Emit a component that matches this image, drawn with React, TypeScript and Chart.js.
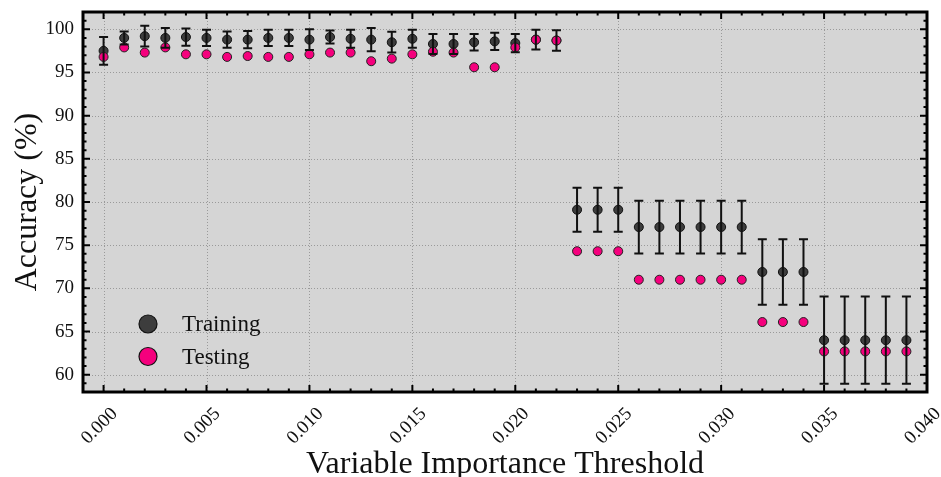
import React, { useEffect, useRef } from "react";
import { Chart, registerables } from "chart.js";

Chart.register(...registerables);

const thresholds = [
  0.000, 0.001, 0.002, 0.003, 0.004, 0.005, 0.006, 0.007, 0.008, 0.009,
  0.010, 0.011, 0.012, 0.013, 0.014, 0.015, 0.016, 0.017, 0.018, 0.019,
  0.020, 0.021, 0.022, 0.023, 0.024, 0.025, 0.026, 0.027, 0.028, 0.029,
  0.030, 0.031, 0.032, 0.033, 0.034, 0.035, 0.036, 0.037, 0.038, 0.039,
];

const trainingMean = [
  97.5, 99.0, 99.2, 99.0, 99.1, 99.0, 98.8, 98.8, 99.0, 99.0,
  98.8, 99.1, 98.9, 98.8, 98.5, 98.9, 98.3, 98.3, 98.5, 98.6,
  98.4, 98.8, 98.7, 79.1, 79.1, 79.1, 77.1, 77.1, 77.1, 77.1,
  77.1, 77.1, 71.9, 71.9, 71.9, 64.0, 64.0, 64.0, 64.0, 64.0,
];

const trainingErr = [
  1.6, 0.75, 1.2, 1.15, 1.0, 0.95, 0.95, 1.0, 0.95, 0.95,
  1.2, 0.75, 1.05, 1.35, 1.2, 1.05, 1.15, 1.15, 0.95, 1.0,
  1.05, 1.15, 1.2, 2.55, 2.55, 2.55, 3.05, 3.05, 3.05, 3.05,
  3.05, 3.05, 3.8, 3.8, 3.8, 5.05, 5.05, 5.05, 5.05, 5.05,
];

const testingAcc = [
  96.8, 97.9, 97.3, 97.9, 97.1, 97.1, 96.8, 96.9, 96.8, 96.8,
  97.1, 97.3, 97.3, 96.3, 96.6, 97.1, 97.4, 97.3, 95.6, 95.6,
  97.9, 98.8, 98.7, 74.3, 74.3, 74.3, 71.0, 71.0, 71.0, 71.0,
  71.0, 71.0, 66.1, 66.1, 66.1, 62.7, 62.7, 62.7, 62.7, 62.7,
];

const xTickValues = [0.0, 0.005, 0.01, 0.015, 0.02, 0.025, 0.03, 0.035, 0.04];
const yTickValues = [60, 65, 70, 75, 80, 85, 90, 95, 100];
const seriesNames = ["Training", "Testing"];

const FONT = "'Liberation Serif', 'Times New Roman', serif";
const TRAIN_FILL = "#3d3d3d";
const TEST_FILL = "#f5007d";

const decorPlugin = {
  id: "decor",
  beforeDatasetsDraw(chart: any) {
    const { ctx, chartArea: a, scales } = chart;
    const xs = scales.x;
    const ys = scales.y;
    ctx.save();
    ctx.fillStyle = "#d5d5d5";
    ctx.fillRect(a.left, a.top, a.right - a.left, a.bottom - a.top);
    ctx.strokeStyle = "#9a9a9a";
    ctx.lineWidth = 1;
    ctx.setLineDash([1, 2]);
    for (const v of xTickValues) {
      const px = Math.round(xs.getPixelForValue(v)) + 0.5;
      ctx.beginPath();
      ctx.moveTo(px, a.top);
      ctx.lineTo(px, a.bottom);
      ctx.stroke();
    }
    for (const v of yTickValues) {
      const py = Math.round(ys.getPixelForValue(v)) + 0.5;
      ctx.beginPath();
      ctx.moveTo(a.left, py);
      ctx.lineTo(a.right, py);
      ctx.stroke();
    }
    ctx.restore();
  },
  afterDatasetsDraw(chart: any) {
    const { ctx, chartArea: a, scales } = chart;
    const xs = scales.x;
    const ys = scales.y;
    ctx.save();
    // error bars
    ctx.strokeStyle = "#111";
    ctx.lineWidth = 2;
    const cap = 4.5;
    thresholds.forEach((t, i) => {
      const px = xs.getPixelForValue(t);
      const hi = ys.getPixelForValue(trainingMean[i] + trainingErr[i]);
      const lo = ys.getPixelForValue(trainingMean[i] - trainingErr[i]);
      ctx.beginPath();
      ctx.moveTo(px, hi);
      ctx.lineTo(px, lo);
      ctx.moveTo(px - cap, hi);
      ctx.lineTo(px + cap, hi);
      ctx.moveTo(px - cap, lo);
      ctx.lineTo(px + cap, lo);
      ctx.stroke();
    });
    // frame
    ctx.strokeStyle = "#000";
    ctx.lineWidth = 3;
    ctx.strokeRect(a.left, a.top, a.right - a.left, a.bottom - a.top);
    // inward ticks
    ctx.lineWidth = 2;
    const major = 7;
    const minor = 3.5;
    const xMin = xs.min;
    const xMax = xs.max;
    for (let k = Math.ceil(xMin * 1000 - 1e-6); k <= Math.floor(xMax * 1000 + 1e-6); k++) {
      const v = k / 1000;
      const isMajor = k % 5 === 0;
      const len = isMajor ? major : minor;
      const px = xs.getPixelForValue(v);
      ctx.beginPath();
      ctx.moveTo(px, a.bottom);
      ctx.lineTo(px, a.bottom - len);
      ctx.moveTo(px, a.top);
      ctx.lineTo(px, a.top + len);
      ctx.stroke();
    }
    for (let v = Math.ceil(ys.min); v <= Math.floor(ys.max); v++) {
      const isMajor = v % 5 === 0;
      const len = isMajor ? major : minor;
      const py = ys.getPixelForValue(v);
      ctx.beginPath();
      ctx.moveTo(a.left, py);
      ctx.lineTo(a.left + len, py);
      ctx.moveTo(a.right, py);
      ctx.lineTo(a.right - len, py);
      ctx.stroke();
    }
    ctx.restore();
  },
  afterDraw(chart: any) {
    const { ctx, chartArea: a } = chart;
    ctx.save();
    const cx = a.left + 65;
    const rows = [a.bottom - 68, a.bottom - 35.5];
    const fills = [TRAIN_FILL, TEST_FILL];
    rows.forEach((cy, i) => {
      ctx.beginPath();
      ctx.arc(cx, cy, 9, 0, Math.PI * 2);
      ctx.fillStyle = fills[i];
      ctx.fill();
      ctx.lineWidth = 1.2;
      ctx.strokeStyle = "#111";
      ctx.stroke();
      ctx.fillStyle = "#111";
      ctx.font = `23px ${FONT}`;
      ctx.textAlign = "left";
      ctx.textBaseline = "middle";
      ctx.fillText(seriesNames[i], cx + 34, cy + 1);
    });
    ctx.restore();
  },
};

export default function App() {
  const ref = useRef<HTMLCanvasElement | null>(null);
  useEffect(() => {
    if (!ref.current) return;
    const chart = new Chart(ref.current, {
      type: "scatter",
      data: {
        datasets: [
          {
            label: seriesNames[0],
            data: thresholds.map((t, i) => ({ x: t, y: trainingMean[i] })),
            backgroundColor: TRAIN_FILL,
            borderColor: "#111",
            borderWidth: 1,
            pointRadius: 4.5,
            order: 2,
          },
          {
            label: seriesNames[1],
            data: thresholds.map((t, i) => ({ x: t, y: testingAcc[i] })),
            backgroundColor: TEST_FILL,
            borderColor: "#222",
            borderWidth: 1,
            pointRadius: 4.5,
            order: 1,
          },
        ],
      },
      options: {
        animation: false,
        responsive: true,
        maintainAspectRatio: false,
        layout: { padding: { top: 12, right: 14, left: 0, bottom: 0 } },
        plugins: {
          legend: { display: false },
          tooltip: { enabled: false },
        },
        scales: {
          x: {
            type: "linear",
            min: -0.001,
            max: 0.04,
            afterBuildTicks: (s: any) => {
              s.ticks = xTickValues.map((v) => ({ value: v }));
            },
            afterFit: (s: any) => {
              s.height = 85;
              s.paddingLeft = 0;
              s.paddingRight = 0;
            },
            grid: { display: false, drawTicks: false },
            border: { display: false },
            ticks: {
              color: "#111",
              font: { family: FONT, size: 19 },
              minRotation: 45,
              maxRotation: 45,
              padding: 11,
              labelOffset: 11,
              callback: (v: any) => Number(v).toFixed(3),
            },
            title: {
              display: true,
              text: "Variable Importance Threshold",
              color: "#111",
              font: { family: FONT, size: 32, lineHeight: 0.8 },
              padding: { top: 0, bottom: 0 },
            },
          },
          y: {
            min: 58,
            max: 102,
            afterBuildTicks: (s: any) => {
              s.ticks = yTickValues.map((v) => ({ value: v }));
            },
            afterFit: (s: any) => {
              s.width = 83;
              s.paddingTop = 0;
              s.paddingBottom = 0;
            },
            grid: { display: false, drawTicks: false },
            border: { display: false },
            ticks: {
              color: "#111",
              font: { family: FONT, size: 19 },
              padding: 9,
            },
            title: {
              display: true,
              text: "Accuracy (%)",
              color: "#111",
              font: { family: FONT, size: 32, lineHeight: 0.8 },
              padding: { top: 15, bottom: 0 },
            },
          },
        },
      },
      plugins: [decorPlugin],
    });
    return () => chart.destroy();
  }, []);
  return (
    <div style={{ position: "absolute", left: 0, top: 0, width: 941, height: 477, background: "#fff" }}>
      <canvas ref={ref} />
    </div>
  );
}
